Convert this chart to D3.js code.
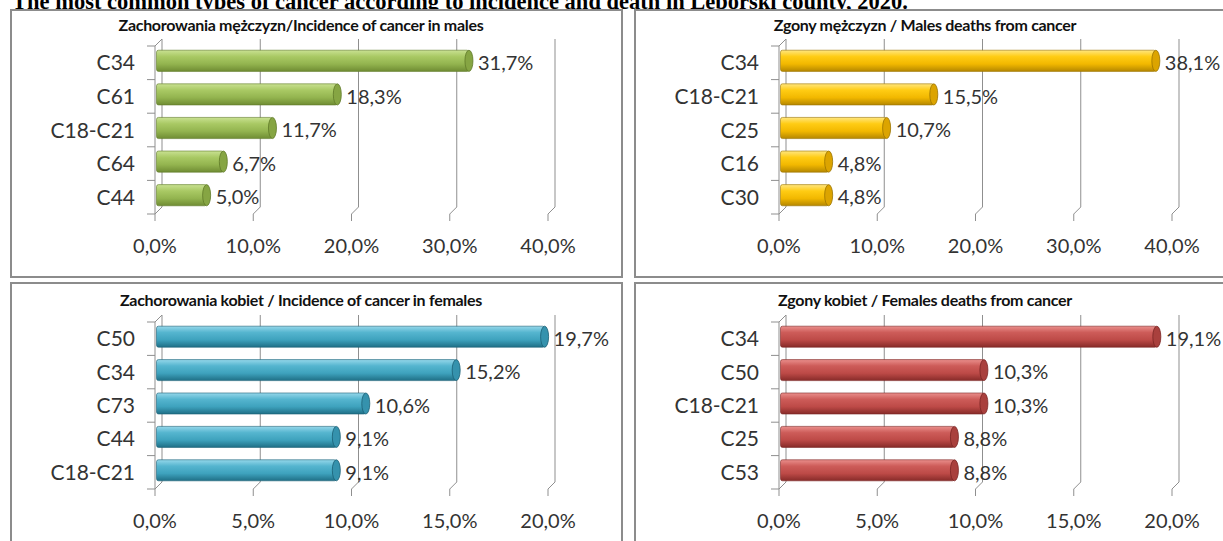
<!DOCTYPE html>
<html>
<head>
<meta charset="utf-8">
<script src="https://cdn.jsdelivr.net/npm/d3@7"></script>
<style>
  body { margin: 0; background: #fff; }
  svg { display: block; }
</style>
</head>
<body>
<svg id="chart"></svg>
<script>
var pageTitle = 'The most common types of cancer according to incidence and death in Lęborski county, 2020.'

var panelTitles = [
  'Zachorowania mężczyzn/Incidence of cancer in males',
  'Zgony mężczyzn / Males deaths from cancer',
  'Zachorowania kobiet / Incidence of cancer in females',
  'Zgony kobiet / Females deaths from cancer'
]

var maleIncidenceCategories = ['C34', 'C61', 'C18-C21', 'C64', 'C44']
var maleIncidenceValues = [31.7, 18.3, 11.7, 6.7, 5.0]

var maleDeathCategories = ['C34', 'C18-C21', 'C25', 'C16', 'C30']
var maleDeathValues = [38.1, 15.5, 10.7, 4.8, 4.8]

var femaleIncidenceCategories = ['C50', 'C34', 'C73', 'C44', 'C18-C21']
var femaleIncidenceValues = [19.7, 15.2, 10.6, 9.1, 9.1]

var femaleDeathCategories = ['C34', 'C50', 'C18-C21', 'C25', 'C53']
var femaleDeathValues = [19.1, 10.3, 10.3, 8.8, 8.8]

var maleTicks = [0, 10, 20, 30, 40]
var femaleTicks = [0, 5, 10, 15, 20]

;(function () {
  var width = 1223; var height = 541
  var panelW = 611; var panelH = 267
  var dx = 7; var dy = 7

  var svg = d3.select('#chart')
    .attr('width', width)
    .attr('height', height)
    .style('background', '#fff')

  var pl = d3.formatLocale({ decimal: ',', thousands: ' ', grouping: [3], currency: ['', ''] })
  var fmt = pl.format('.1f')
  var pct = function (v) { return fmt(v) + '%' }

  // cylinder shading per colour
  var palettes = {
    green: { id: 'g-green', stops: ['#c9e192', '#a9c964', '#93b44f', '#6f8c33'], cap: '#86a543', edge: '#5f7a28' },
    gold: { id: 'g-gold', stops: ['#ffe680', '#ffcc14', '#f2b800', '#b58700'], cap: '#dca400', edge: '#9a7300' },
    blue: { id: 'g-blue', stops: ['#95d7ea', '#55b5cf', '#3ea2bd', '#1f6f86'], cap: '#3592ad', edge: '#1b6075' },
    red: { id: 'g-red', stops: ['#ea8f8c', '#cd5c59', '#bd4a47', '#872b29'], cap: '#a9403d', edge: '#7a2523' }
  }

  var defs = svg.append('defs')
  Object.keys(palettes).forEach(function (k) {
    var p = palettes[k]
    var lg = defs.append('linearGradient').attr('id', p.id)
      .attr('x1', 0).attr('y1', 0).attr('x2', 0).attr('y2', 1)
    var offs = [0, 0.3, 0.65, 1]
    p.stops.forEach(function (c, i) {
      lg.append('stop').attr('offset', offs[i]).attr('stop-color', c)
    })
  })

  svg.append('text')
    .attr('x', 12)
    .attr('y', 9)
    .attr('font-family', '"Liberation Serif", "Times New Roman", serif')
    .attr('font-weight', 'bold')
    .attr('font-size', 22.5)
    .attr('fill', '#000')
    .text(pageTitle)

  var panels = [
    { title: panelTitles[0], cats: maleIncidenceCategories, values: maleIncidenceValues, ticks: maleTicks, pal: palettes.green, x: 11, y: 10, top: 36, bottom: 204, titleY: 15 },
    { title: panelTitles[1], cats: maleDeathCategories, values: maleDeathValues, ticks: maleTicks, pal: palettes.gold, x: 635, y: 10, top: 36, bottom: 204, titleY: 15 },
    { title: panelTitles[2], cats: femaleIncidenceCategories, values: femaleIncidenceValues, ticks: femaleTicks, pal: palettes.blue, x: 11, y: 283, top: 39, bottom: 206, titleY: 17 },
    { title: panelTitles[3], cats: femaleDeathCategories, values: femaleDeathValues, ticks: femaleTicks, pal: palettes.red, x: 635, y: 283, top: 39, bottom: 206, titleY: 17 }
  ]

  var labelFont = 'Lato, "Open Sans", sans-serif'

  panels.forEach(function (p) {
    var g = svg.append('g').attr('transform', 'translate(' + p.x + ',' + p.y + ')')

    g.append('rect')
      .attr('width', panelW).attr('height', panelH)
      .attr('fill', '#fff')
      .attr('stroke', '#8c8c8c')
      .attr('stroke-width', 2)

    var x = d3.scaleLinear()
      .domain([0, d3.max(p.ticks)])
      .range([144, 537])

    var yBand = d3.scaleBand()
      .domain(p.cats)
      .range([p.top, p.bottom])

    var y = d3.scaleBand()
      .domain(p.cats)
      .range([p.top, p.bottom])
      .paddingInner(0.37)
      .paddingOuter(0.185)

    var grid = g.append('g').attr('stroke', '#8f8f8f').attr('stroke-width', 1).attr('fill', 'none')

    // back wall gridlines + floor diagonals + ticks
    p.ticks.forEach(function (t) {
      var xf = x(t)
      grid.append('path')
        .attr('d', 'M' + (xf + dx) + ',' + (p.top - dy) + 'V' + (p.bottom - dy) +
          'L' + xf + ',' + p.bottom + 'V' + (p.bottom + 7))
    })

    // category axis (front) with top diagonal and ticks
    var x0 = x(0)
    grid.append('path')
      .attr('d', 'M' + (x0 + dx) + ',' + (p.top - dy) + 'L' + x0 + ',' + p.top + 'V' + p.bottom)
    var bounds = p.cats.map(function (c) { return yBand(c) }).concat([p.bottom])
    grid.selectAll('.ytick')
      .data(bounds)
      .enter().append('line')
      .attr('x1', x0 - 8).attr('x2', x0)
      .attr('y1', function (d) { return d })
      .attr('y2', function (d) { return d })

    var rows = p.cats.map(function (c, i) { return { cat: c, value: p.values[i] } })

    // cylinders
    var bars = g.selectAll('.bar')
      .data(rows)
      .enter().append('g')

    var bw = y.bandwidth()
    var rx = 4

    bars.append('rect')
      .attr('x', x0 + 1.5)
      .attr('y', function (d) { return y(d.cat) - 2 })
      .attr('width', function (d) { return Math.max(0, x(d.value) + dx / 2 - 1 - (x0 + 1.5)) })
      .attr('height', bw)
      .attr('fill', 'url(#' + p.pal.id + ')')
      .attr('stroke', p.pal.edge)
      .attr('stroke-width', 0.6)
      .attr('rx', 2)

    bars.append('ellipse')
      .attr('cx', function (d) { return x(d.value) + dx / 2 - 1 })
      .attr('cy', function (d) { return y(d.cat) - 2 + bw / 2 })
      .attr('rx', rx)
      .attr('ry', bw / 2)
      .attr('fill', p.pal.cap)
      .attr('stroke', p.pal.edge)
      .attr('stroke-width', 0.8)

    // value labels
    g.selectAll('.val')
      .data(rows)
      .enter().append('text')
      .attr('x', function (d) { return x(d.value) + dx / 2 + 8 })
      .attr('y', function (d) { return yBand(d.cat) + yBand.bandwidth() / 2 })
      .attr('dy', '0.36em')
      .attr('font-family', labelFont)
      .attr('font-size', 20)
      .attr('fill', '#333')
      .text(function (d) { return pct(d.value) })

    // category labels
    g.selectAll('.cat')
      .data(p.cats)
      .enter().append('text')
      .attr('x', x0 - 20)
      .attr('y', function (d) { return yBand(d) + yBand.bandwidth() / 2 })
      .attr('dy', '0.36em')
      .attr('text-anchor', 'end')
      .attr('font-family', labelFont)
      .attr('font-size', 21)
      .attr('fill', '#333')
      .text(function (d) { return d })

    // value axis labels
    g.selectAll('.tick')
      .data(p.ticks)
      .enter().append('text')
      .attr('x', function (d) { return x(d) })
      .attr('y', p.bottom + 32)
      .attr('dy', '0.36em')
      .attr('text-anchor', 'middle')
      .attr('font-family', labelFont)
      .attr('font-size', 20)
      .attr('fill', '#333')
      .text(function (d) { return pct(d) })

    g.append('text')
      .attr('x', 290)
      .attr('y', p.titleY)
      .attr('dy', '0.35em')
      .attr('text-anchor', 'middle')
      .attr('font-family', labelFont)
      .attr('font-weight', 'bold')
      .attr('font-size', 16)
      .attr('letter-spacing', -0.3)
      .attr('fill', '#111')
      .text(p.title)
  })
})()
</script>
</body>
</html>
